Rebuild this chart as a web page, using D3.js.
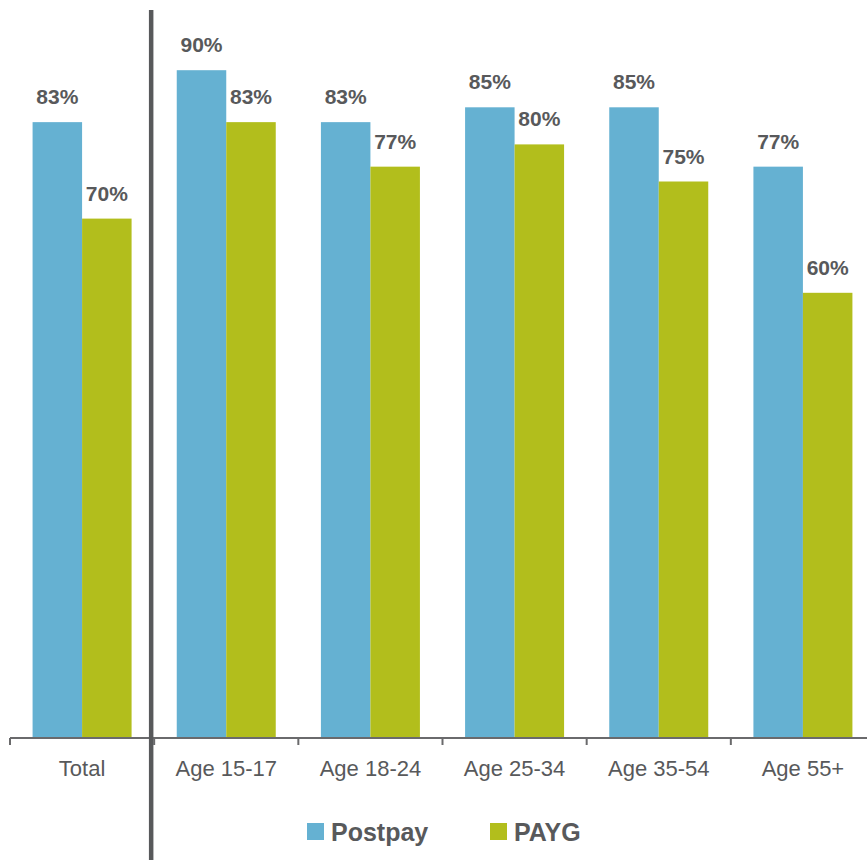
<!DOCTYPE html>
<style>
  body { margin: 0; font-family: 'Liberation Sans', Arial, sans-serif; background: #fff; }
  .axis .domain { display: none; }
</style>
<svg width="867" height="860"></svg>
<script src="https://d3js.org/d3.v7.min.js"></script>
<script>
  // data
  var categories = ["Total", "Age 15-17", "Age 18-24", "Age 25-34", "Age 35-54", "Age 55+"];
  var series = ["Postpay", "PAYG"];
  var postpay = [83, 90, 83, 85, 85, 77];
  var payg = [70, 83, 77, 80, 75, 60];

  var svg = d3.select("svg"),
      baseY = 738,
      textCol = "#58595b";

  var z = d3.scaleOrdinal().domain(series).range(["#65b1d2", "#b2be1c"]);

  // band scale runs a bit past the right edge, like the original
  var x = d3.scaleBand().domain(categories).range([10, 875]).padding(0);
  var x1 = d3.scaleBand().domain(series).range([0, 99]);
  var y = d3.scaleLinear().domain([0, 100]).range([baseY, -4]);

  var rows = categories.map(function(c, i) {
    return { cat: c, vals: [ {key: "Postpay", v: postpay[i]}, {key: "PAYG", v: payg[i]} ] };
  });

  var groups = svg.append("g").selectAll("g")
    .data(rows)
    .enter().append("g")
    .attr("transform", function(d) { return "translate(" + (x(d.cat) + (x.bandwidth() - 99) / 2) + ",0)"; });

  groups.selectAll("rect")
    .data(function(d) { return d.vals; })
    .enter().append("rect")
    .attr("x", function(d) { return x1(d.key); })
    .attr("y", function(d) { return y(d.v); })
    .attr("width", x1.bandwidth())
    .attr("height", function(d) { return baseY - y(d.v); })
    .attr("fill", function(d) { return z(d.key); });

  groups.selectAll("text")
    .data(function(d) { return d.vals; })
    .enter().append("text")
    .attr("x", function(d) { return x1(d.key) + x1.bandwidth() / 2; })
    .attr("y", function(d) { return y(d.v) - 18; })
    .attr("text-anchor", "middle")
    .attr("font-size", 21)
    .attr("font-weight", "bold")
    .attr("fill", textCol)
    .text(function(d) { return d.v + "%"; });

  // x axis: labels at centres, ticks at band edges
  var ax = svg.append("g")
    .attr("class", "axis")
    .attr("transform", "translate(0," + baseY + ")")
    .call(d3.axisBottom(x).tickSize(0).tickPadding(22));
  ax.selectAll("text")
    .attr("font-family", "'Liberation Sans', Arial, sans-serif")
    .attr("font-size", 22)
    .attr("fill", textCol);

  svg.append("line")
    .attr("x1", x.range()[0]).attr("x2", x.range()[1])
    .attr("y1", baseY).attr("y2", baseY)
    .attr("stroke", "#6a6a6c").attr("stroke-width", 2);

  var edges = categories.map(function(c) { return x(c); }).concat([x.range()[1]]);
  svg.append("g").selectAll("line")
    .data(edges)
    .enter().append("line")
    .attr("x1", function(d) { return d; }).attr("x2", function(d) { return d; })
    .attr("y1", baseY).attr("y2", baseY + 7)
    .attr("stroke", "#6a6a6c").attr("stroke-width", 2);

  // divider between Total and age groups
  var divX = x(categories[1]) - 3;
  svg.append("line")
    .attr("x1", divX).attr("x2", divX)
    .attr("y1", 10).attr("y2", 860)
    .attr("stroke", "#58595b").attr("stroke-width", 4.5);

  // legend
  var legend = svg.append("g").selectAll("g")
    .data(series)
    .enter().append("g")
    .attr("transform", function(d, i) { return "translate(" + (307 + i * 183) + ",823)"; });

  legend.append("rect")
    .attr("width", 17).attr("height", 17)
    .attr("fill", z);

  legend.append("text")
    .attr("x", 24).attr("y", 18)
    .attr("font-size", 25)
    .attr("font-weight", "bold")
    .attr("fill", textCol)
    .text(function(d) { return d; });
</script>
